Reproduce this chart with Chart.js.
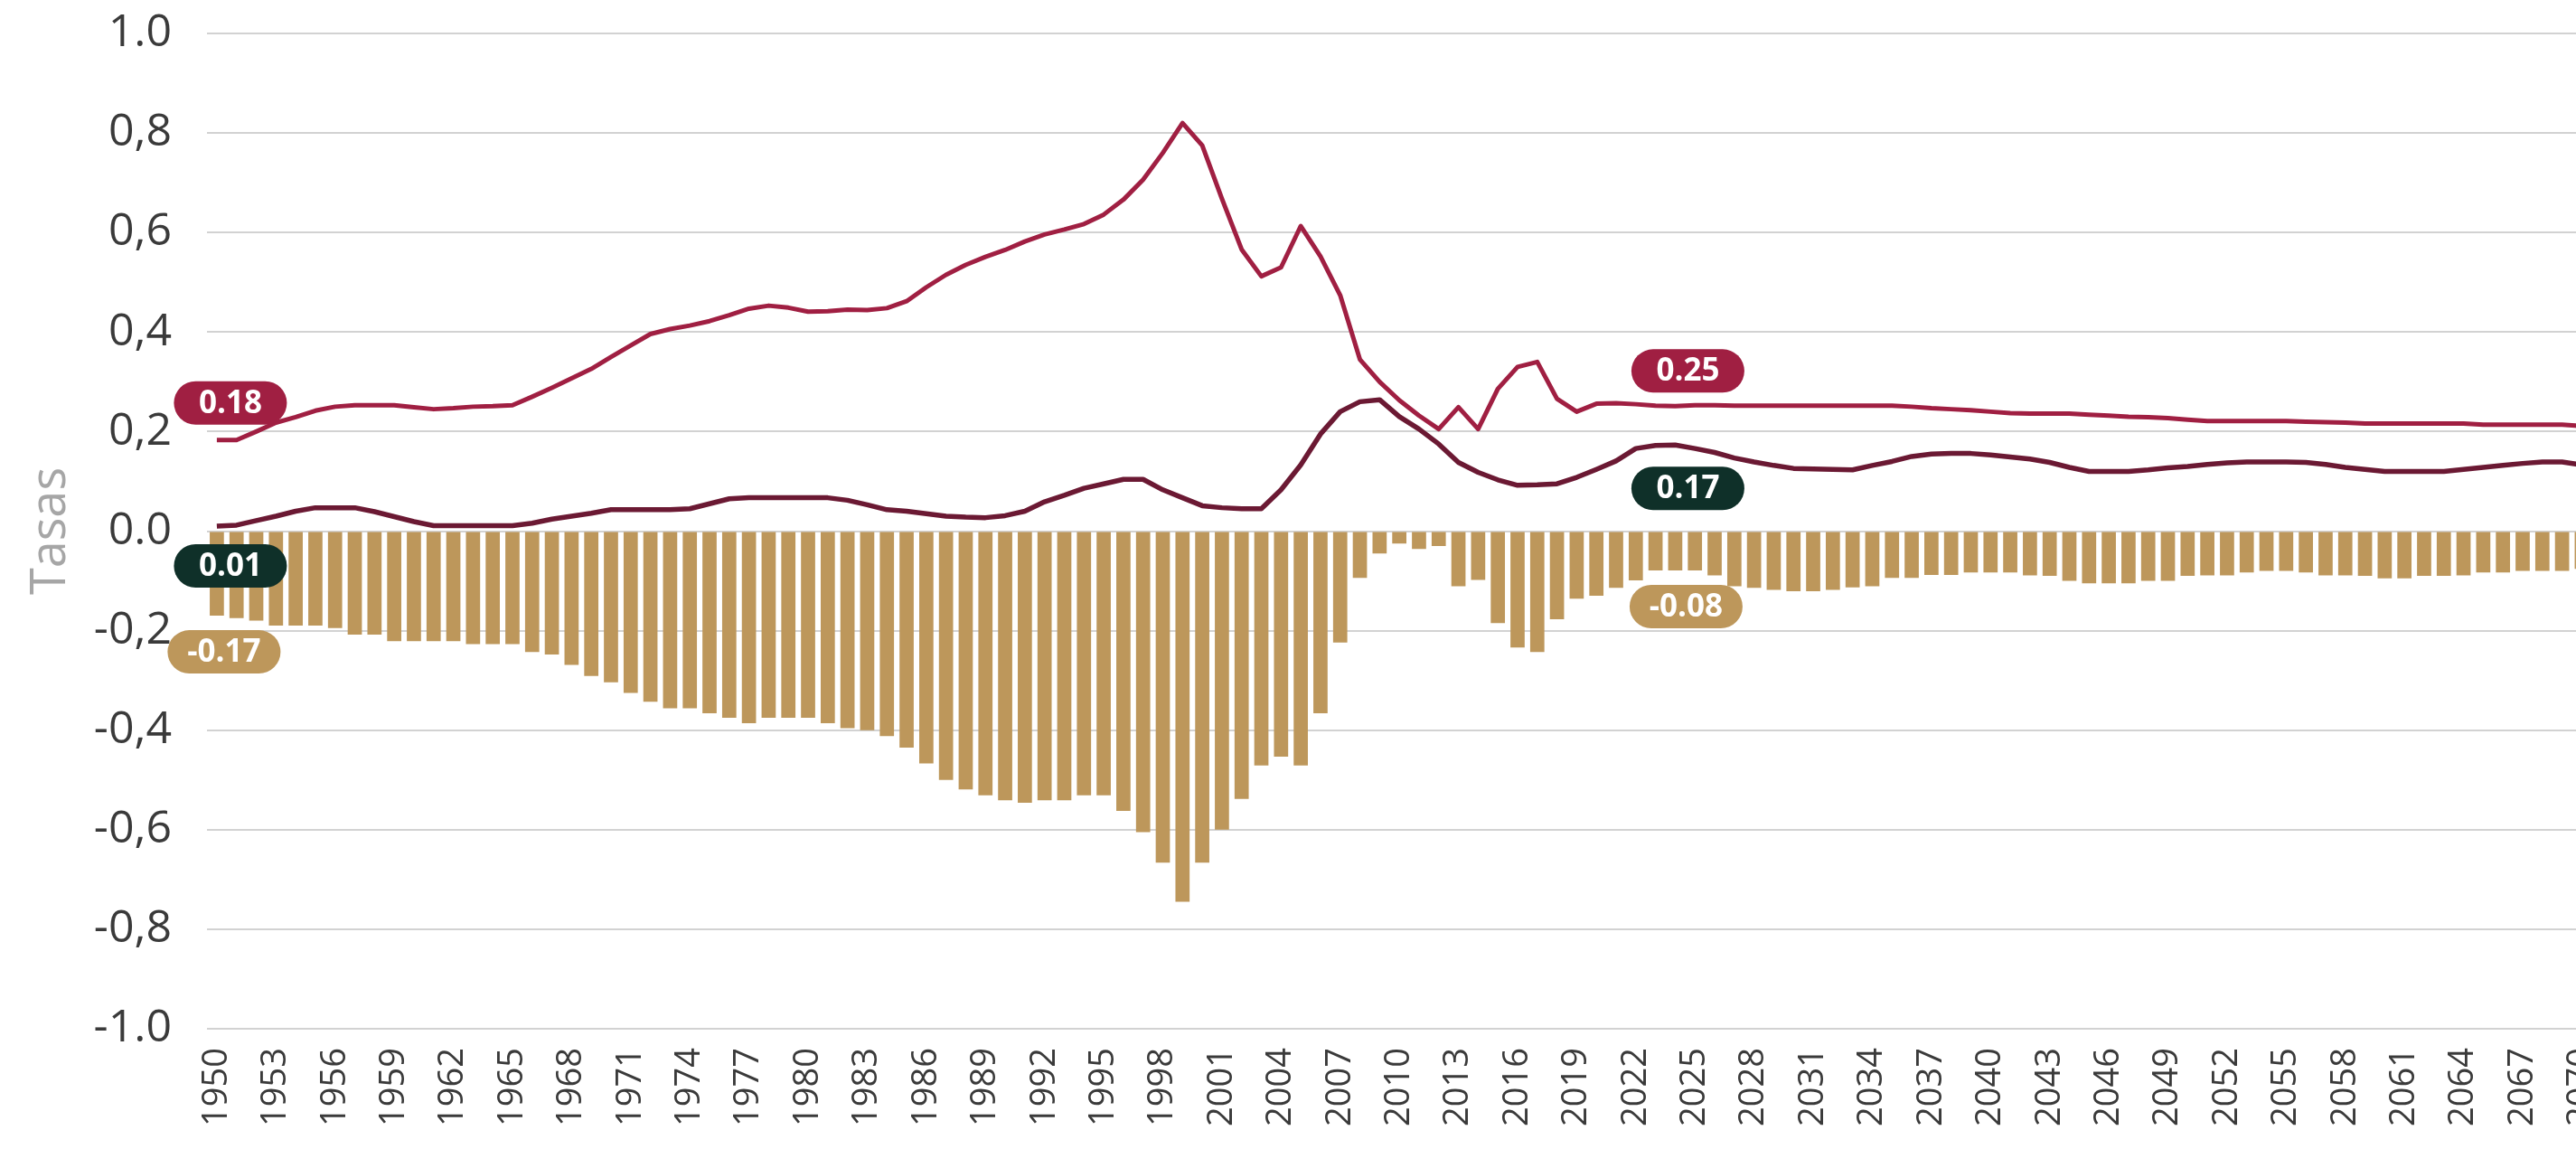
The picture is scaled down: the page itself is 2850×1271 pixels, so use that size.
<!DOCTYPE html>
<html>
<head>
<meta charset="utf-8">
<script src="https://cdn.jsdelivr.net/npm/chart.js@4.4.1/dist/chart.umd.min.js"></script>
<style>
  html, body { margin: 0; padding: 0; background: #fff; overflow: hidden; }
  #wrap { width: 2850px; height: 1271px; overflow: hidden; }
</style>
</head>
<body>
<div id="wrap"><canvas id="chart" width="2923" height="1271"></canvas></div>
<script>
// años (eje x)
const years = [
  1950,1951,1952,1953,1954,1955,1956,1957,1958,1959,
  1960,1961,1962,1963,1964,1965,1966,1967,1968,1969,
  1970,1971,1972,1973,1974,1975,1976,1977,1978,1979,
  1980,1981,1982,1983,1984,1985,1986,1987,1988,1989,
  1990,1991,1992,1993,1994,1995,1996,1997,1998,1999,
  2000,2001,2002,2003,2004,2005,2006,2007,2008,2009,
  2010,2011,2012,2013,2014,2015,2016,2017,2018,2019,
  2020,2021,2022,2023,2024,2025,2026,2027,2028,2029,
  2030,2031,2032,2033,2034,2035,2036,2037,2038,2039,
  2040,2041,2042,2043,2044,2045,2046,2047,2048,2049,
  2050,2051,2052,2053,2054,2055,2056,2057,2058,2059,
  2060,2061,2062,2063,2064,2065,2066,2067,2068,2069,
  2070
];

// linea roja (superior)
const lineaRoja = [
  0.183,0.183,0.200,0.218,0.229,0.242,0.250,0.253,0.253,0.253,
  0.249,0.245,0.247,0.250,0.251,0.253,0.270,0.288,0.307,0.326,
  0.350,0.373,0.396,0.406,0.413,0.422,0.434,0.447,0.453,0.449,
  0.441,0.442,0.445,0.444,0.448,0.462,0.490,0.515,0.535,0.551,
  0.565,0.582,0.596,0.606,0.617,0.636,0.666,0.706,0.760,0.820,
  0.775,0.668,0.566,0.512,0.530,0.613,0.552,0.474,0.345,0.300,
  0.263,0.232,0.205,0.249,0.205,0.286,0.330,0.340,0.266,0.240,
  0.256,0.257,0.255,0.252,0.251,0.253,0.253,0.252,0.252,0.252,
  0.252,0.252,0.252,0.252,0.252,0.252,0.250,0.247,0.245,0.243,
  0.240,0.237,0.236,0.236,0.236,0.234,0.232,0.230,0.229,0.227,
  0.224,0.221,0.221,0.221,0.221,0.221,0.220,0.219,0.218,0.216,
  0.216,0.216,0.216,0.216,0.216,0.214,0.214,0.214,0.214,0.214,
  0.211
];

// linea oscura (inferior)
const lineaOscura = [
  0.010,0.012,0.021,0.030,0.040,0.047,0.047,0.047,0.039,0.029,
  0.019,0.011,0.011,0.011,0.011,0.011,0.016,0.024,0.030,0.036,
  0.043,0.043,0.043,0.043,0.045,0.055,0.065,0.067,0.067,0.067,
  0.067,0.067,0.062,0.053,0.043,0.040,0.035,0.030,0.028,0.027,
  0.031,0.040,0.059,0.072,0.086,0.095,0.104,0.104,0.083,0.067,
  0.051,0.047,0.045,0.045,0.083,0.133,0.195,0.240,0.260,0.264,
  0.230,0.205,0.175,0.138,0.118,0.103,0.092,0.093,0.095,0.108,
  0.124,0.141,0.166,0.172,0.173,0.166,0.158,0.147,0.139,0.132,
  0.126,0.125,0.124,0.123,0.132,0.140,0.150,0.155,0.156,0.156,
  0.153,0.149,0.145,0.138,0.128,0.120,0.120,0.120,0.123,0.127,
  0.130,0.134,0.137,0.139,0.139,0.139,0.138,0.134,0.128,0.124,
  0.120,0.120,0.120,0.120,0.124,0.128,0.132,0.136,0.139,0.139,
  0.133
];

// barras doradas
const barras = [
  -0.170,-0.175,-0.180,-0.190,-0.190,-0.190,-0.195,-0.208,-0.208,-0.221,
  -0.221,-0.221,-0.221,-0.227,-0.227,-0.227,-0.243,-0.248,-0.269,-0.291,
  -0.304,-0.325,-0.343,-0.356,-0.356,-0.366,-0.375,-0.386,-0.375,-0.375,
  -0.375,-0.386,-0.396,-0.400,-0.412,-0.435,-0.467,-0.500,-0.519,-0.531,
  -0.541,-0.546,-0.541,-0.541,-0.531,-0.531,-0.562,-0.605,-0.666,-0.745,
  -0.666,-0.600,-0.538,-0.471,-0.453,-0.471,-0.366,-0.224,-0.094,-0.045,
  -0.025,-0.036,-0.030,-0.111,-0.098,-0.185,-0.234,-0.243,-0.177,-0.136,
  -0.130,-0.114,-0.099,-0.079,-0.079,-0.079,-0.089,-0.111,-0.114,-0.118,
  -0.121,-0.121,-0.118,-0.113,-0.111,-0.094,-0.094,-0.088,-0.088,-0.083,
  -0.083,-0.083,-0.089,-0.090,-0.100,-0.105,-0.105,-0.105,-0.100,-0.100,
  -0.090,-0.089,-0.089,-0.083,-0.080,-0.080,-0.083,-0.089,-0.089,-0.090,
  -0.095,-0.095,-0.090,-0.090,-0.089,-0.083,-0.083,-0.080,-0.080,-0.080,
  -0.076
];

// etiquetas del eje y (de abajo hacia arriba)
const yTickLabels = ['-1.0','-0,8','-0,6','-0,4','-0,2','0.0','0,2','0,4','0,6','0,8','1.0'];

const ROJO = '#A01F42', GUINDA = '#6B1933', DORADO = '#BD975B', VERDE = '#0F3029';

// etiquetas tipo pastilla: dataset, indice, desplazamiento
const badges = [
  { ds: 0, idx: 0,  dx: 15, dy: -41, bg: ROJO },
  { ds: 1, idx: 0,  dx: 15, dy: 44,  bg: VERDE },
  { ds: 2, idx: 0,  dx: 8,  dy: 40,  bg: DORADO },
  { ds: 0, idx: 74, dx: 14, dy: -39, bg: ROJO },
  { ds: 1, idx: 74, dx: 14, dy: 48,  bg: VERDE },
  { ds: 2, idx: 74, dx: 12, dy: 40,  bg: DORADO }
];

const badgePlugin = {
  id: 'badges',
  afterDatasetsDraw(chart) {
    const ctx = chart.ctx;
    const w = 125, h = 48;
    ctx.save();
    badges.forEach(b => {
      const el = chart.getDatasetMeta(b.ds).data[b.idx];
      const v = chart.data.datasets[b.ds].data[b.idx];
      const x = el.x + b.dx, y = el.y + b.dy;
      ctx.fillStyle = b.bg;
      ctx.beginPath();
      ctx.roundRect(x - w / 2, y - h / 2, w, h, h / 2);
      ctx.fill();
      ctx.fillStyle = '#fff';
      ctx.font = '700 35px "Open Sans"';
      ctx.textAlign = 'center';
      ctx.textBaseline = 'middle';
      ctx.fillText(v.toFixed(2), x, y + 1);
    });
    ctx.restore();
  }
};

new Chart(document.getElementById('chart').getContext('2d'), {
  type: 'bar',
  data: {
    labels: years,
    datasets: [
      { type: 'line', data: lineaRoja, borderColor: ROJO, borderWidth: 5, pointRadius: 0,
        tension: 0, borderJoinStyle: 'round', order: 1 },
      { type: 'line', data: lineaOscura, borderColor: GUINDA, borderWidth: 5.5, pointRadius: 0,
        tension: 0, borderJoinStyle: 'round', order: 2 },
      { type: 'bar', data: barras, backgroundColor: DORADO, barPercentage: 0.72,
        categoryPercentage: 1.0, order: 3 }
    ]
  },
  options: {
    responsive: false,
    animation: false,
    layout: { padding: { top: 37, right: 0, bottom: 0, left: 0 } },
    plugins: { legend: { display: false }, tooltip: { enabled: false } },
    scales: {
      x: {
        afterFit: (s) => { s.height = 133; s.paddingTop = 0; s.paddingBottom = 0; },
        grid: { display: false, drawTicks: false },
        border: { display: false },
        ticks: {
          autoSkip: false, minRotation: 90, maxRotation: 90, padding: 21,
          color: '#3a3a3a', font: { family: '"Open Sans"', size: 38, weight: '400' },
          callback: (v, i) => (i % 3 === 0 ? String(years[i]) : '')
        }
      },
      y: {
        min: -1, max: 1,
        afterFit: (s) => { s.width = 229; s.paddingTop = 0; s.paddingBottom = 0; },
        grid: { color: '#d2d2d2', lineWidth: 2, drawTicks: false },
        border: { display: false },
        ticks: {
          stepSize: 0.2, padding: 39, color: '#3a3a3a',
          font: { family: '"Open Sans"', size: 50, weight: '400' },
          callback: (v, i) => yTickLabels[i]
        },
        title: {
          display: true, text: 'Tasas', color: '#a6a6a6',
          font: { family: '"Open Sans"', size: 54, weight: '400' },
          padding: { top: 24, bottom: 0 }
        }
      }
    }
  },
  plugins: [badgePlugin]
});
</script>
</body>
</html>
